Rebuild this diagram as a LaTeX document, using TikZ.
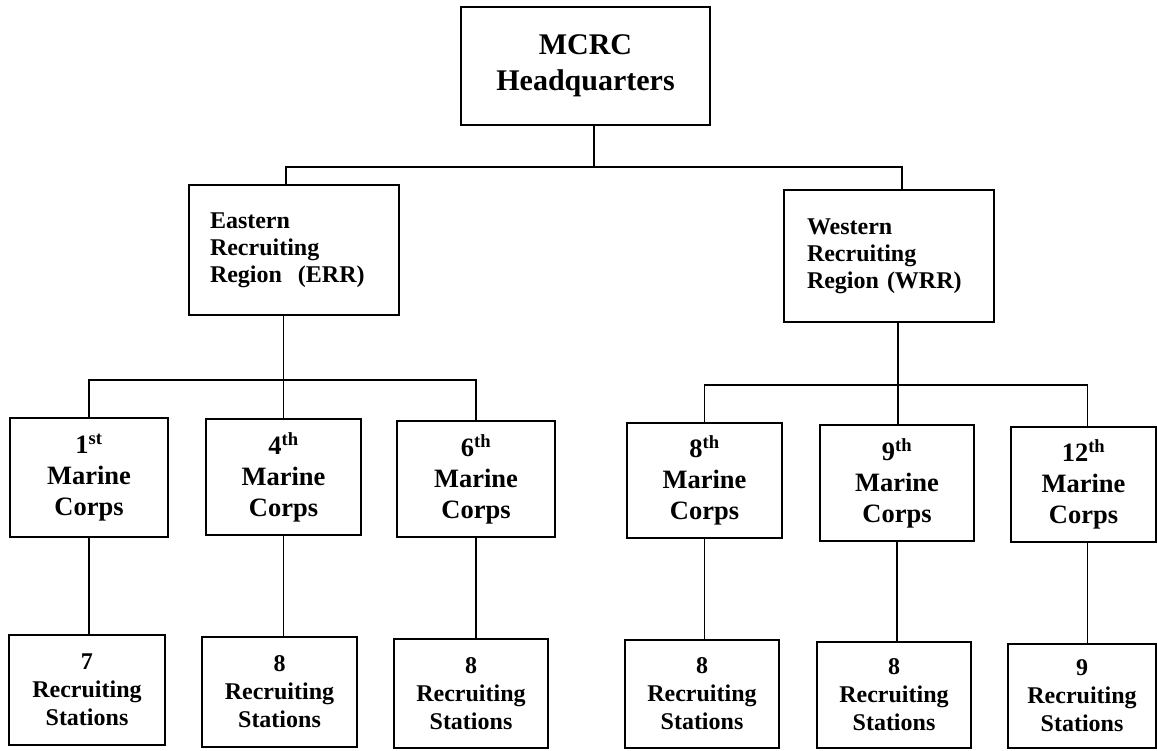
\documentclass[tikz,border=0pt]{standalone}
\usepackage{fontspec}
\setmainfont{Liberation Serif}
\begin{document}
\begin{tikzpicture}[x=1pt,y=-1pt,
  box/.style={draw, line width=1.8pt, inner sep=0pt, align=center},
  conn/.style={line width=1.8pt},
  hqbox/.style={box, font=\bfseries\fontsize{30}{36}\selectfont},
  regbox/.style={box, align=left, inner ysep=0pt, font=\bfseries\fontsize{24}{27}\selectfont},
  mcbox/.style={box, font=\bfseries\fontsize{26.5}{31}\selectfont},
  rsbox/.style={box, font=\bfseries\fontsize{24}{28}\selectfont}]
\useasboundingbox (0,0) rectangle (1158,750);
% top
\node[hqbox, minimum width=249pt, minimum height=118pt] (HQ) at (585.5,66) {MCRC\\Headquarters};
% regions
\node[regbox, text width=168pt, inner xsep=21pt, minimum height=130pt] (ERR) at (294,250) {Eastern\\Recruiting\\Region\ \ (ERR)};
\node[regbox, text width=164pt, inner xsep=23pt, minimum height=132pt] (WRR) at (889,256) {Western\\Recruiting\\Region (WRR)};
% marine corps districts
\node[mcbox, minimum width=158pt, minimum height=119pt] (MC1) at (89,477.5) {1\textsuperscript{st}\\Marine\\Corps};
\node[mcbox, minimum width=155pt, minimum height=116pt] (MC4) at (283.5,477) {4\textsuperscript{th}\\Marine\\Corps};
\node[mcbox, minimum width=158pt, minimum height=116pt] (MC6) at (476,479) {6\textsuperscript{th}\\Marine\\Corps};
\node[mcbox, minimum width=155pt, minimum height=115pt] (MC8) at (704.5,480.5) {8\textsuperscript{th}\\Marine\\Corps};
\node[mcbox, minimum width=154pt, minimum height=116pt] (MC9) at (897,483) {9\textsuperscript{th}\\Marine\\Corps};
\node[mcbox, minimum width=145pt, minimum height=115pt] (MC12) at (1083.5,484.5) {12\textsuperscript{th}\\Marine\\Corps};
% recruiting stations
\node[rsbox, minimum width=156pt, minimum height=110pt] (RS1) at (87,690) {7\\Recruiting\\Stations};
\node[rsbox, minimum width=155pt, minimum height=110pt] (RS4) at (279.5,692) {8\\Recruiting\\Stations};
\node[rsbox, minimum width=154pt, minimum height=109pt] (RS6) at (471,693.5) {8\\Recruiting\\Stations};
\node[rsbox, minimum width=154pt, minimum height=108pt] (RS8) at (702,694) {8\\Recruiting\\Stations};
\node[rsbox, minimum width=154pt, minimum height=106pt] (RS9) at (894,695) {8\\Recruiting\\Stations};
\node[rsbox, minimum width=148pt, minimum height=104pt] (RS12) at (1082,696) {9\\Recruiting\\Stations};
% connectors
\coordinate (j0) at (594,167);
\draw[conn] (HQ.south -| j0) -- (j0);
\draw[conn] ([xshift=-8pt]ERR.north) |- (j0) -| ([xshift=13pt]WRR.north);
\coordinate (j1) at (283,380);
\draw[conn] (ERR.south -| MC4.north) -- (MC4.north);
\draw[conn] (MC1.north) |- (j1) -| (MC6.north);
\coordinate (j2) at (898,385);
\draw[conn] (WRR.south -| j2) -- (MC9.north -| j2);
\draw[conn] (MC8.north) |- (j2) -| ([xshift=4pt]MC12.north);
\draw[conn] (MC1.south) -- (MC1.south |- RS1.north);
\draw[conn] (MC4.south) -- (MC4.south |- RS4.north);
\draw[conn] (MC6.south) -- (MC6.south |- RS6.north);
\draw[conn] (MC8.south) -- (MC8.south |- RS8.north);
\draw[conn] (MC9.south) -- (MC9.south |- RS9.north);
\draw[conn] ([xshift=4pt]MC12.south) -- ([xshift=4pt]MC12.south |- RS12.north);
\end{tikzpicture}
\end{document}
